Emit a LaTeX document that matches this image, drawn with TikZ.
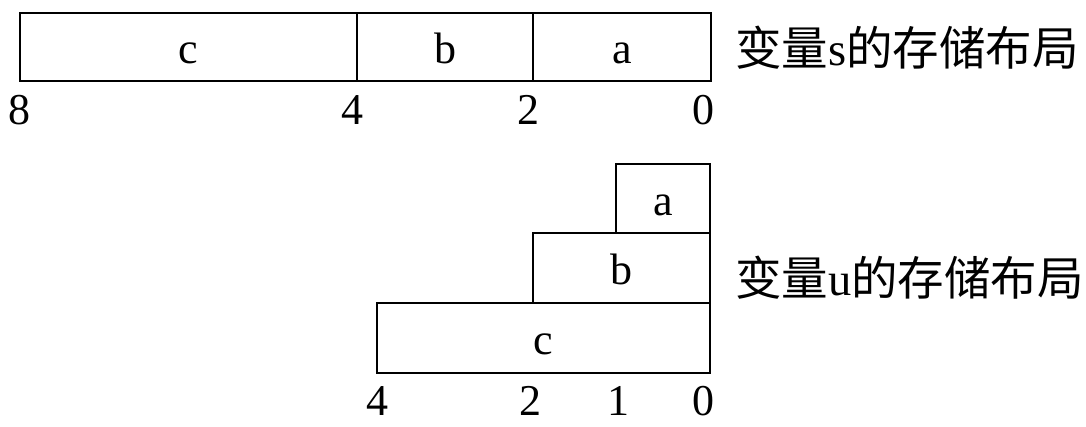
\documentclass[tikz,border=0pt]{standalone}
\usepackage{fontspec}
\setmainfont{Liberation Serif}
\newfontfamily\cjk{Noto Sans CJK SC}
\begin{document}
\begin{tikzpicture}[x=1pt,y=-1pt,
  cell/.style={draw, line width=1.4pt, inner sep=0pt, text height=33pt, text depth=0pt,
    font=\fontsize{44}{50}\selectfont},
  num/.style={anchor=base, inner sep=0pt, font=\fontsize{44}{50}\selectfont},
  caption/.style={anchor=west, inner sep=0pt, font=\cjk\fontsize{46.5}{52}\selectfont}]
\useasboundingbox (0,0) rectangle (1086,426);
% variable s
\node[cell, minimum width=337pt, minimum height=68pt] (sc) at (188.5,47) {c};
\node[cell, minimum width=176pt, minimum height=68pt] (sb) at (445,47) {b};
\node[cell, minimum width=178pt, minimum height=68pt] (sa) at (622,47) {a};
\node[num] (s8) at (20,124) {8};
\node[num] (s4) at (352,124) {4};
\node[num] (s2) at (528,124) {2};
\node[num] (s0) at (703,124) {0};
\node[caption] (capS) at (735,48) {变量{\rmfamily s}的存储布局};
% variable u
\node[cell, minimum width=94pt, minimum height=69pt] (ua) at (663,198.5) {a};
\node[cell, minimum width=177pt, minimum height=70pt] (ub) at (621.5,268) {b};
\node[cell, minimum width=333pt, minimum height=70pt] (uc) at (543.5,338) {c};
\node[num] (u4) at (377,415) {4};
\node[num] (u2) at (530,415) {2};
\node[num] (u1) at (618,415) {1};
\node[num] (u0) at (703,415) {0};
\node[caption] (capU) at (735,278) {变量{\rmfamily u}的存储布局};
\end{tikzpicture}
\end{document}
